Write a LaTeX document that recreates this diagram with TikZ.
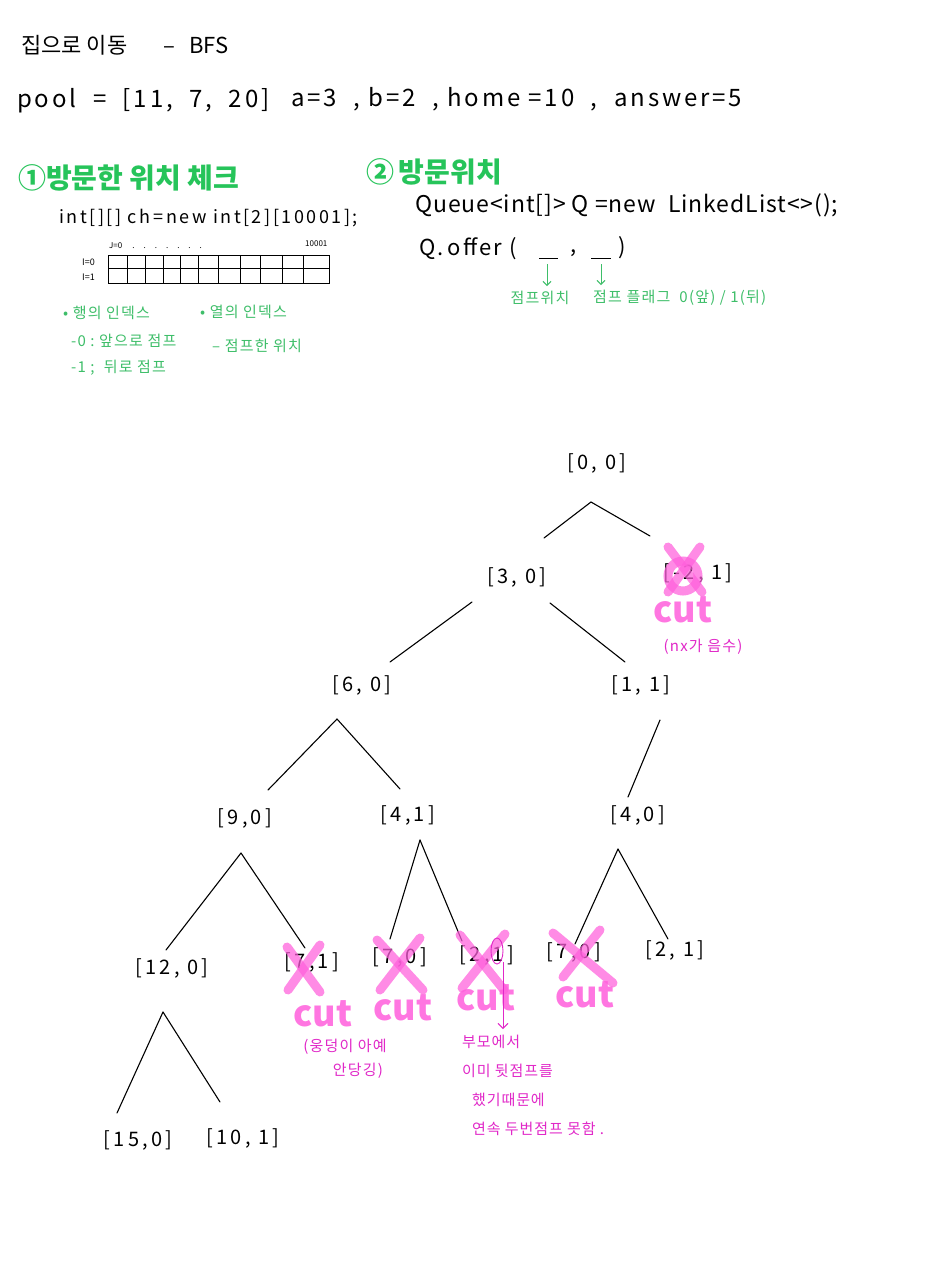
\documentclass[tikz,border=0pt]{standalone}
\usepackage{fontspec}
\setmainfont{Noto Sans CJK KR}
\usetikzlibrary{calc,arrows.meta}
\definecolor{hgreen}{RGB}{38,196,90}
\definecolor{ngreen}{RGB}{62,190,105}
\definecolor{mag}{RGB}{225,40,200}
\definecolor{hl}{RGB}{255,95,220}
\newcommand\fsz[2]{\fontsize{#1}{#2}\selectfont}
\newcommand\lsp[1]{\addfontfeatures{LetterSpace=#1}}
\begin{document}
\begin{tikzpicture}[x=1pt,y=-1pt,
  txt/.style={inner sep=1pt, anchor=west},
  tn/.style={inner sep=1pt, font=\fsz{20}{24}\lsp{16}},
  edge/.style={line width=1.1pt, black, line cap=round},
  xmark/.style={hl, line width=9pt, line cap=round, opacity=0.72},
  cutlbl/.style={text=hl, text opacity=0.85, inner sep=0pt, font=\fsz{36}{40}\bfseries},
  mnote/.style={text=mag, inner sep=1pt, font=\fsz{15}{18}\lsp{8}},
  gnote/.style={text=ngreen, inner sep=1pt, anchor=west, font=\fsz{15}{18}\lsp{8}},
  magline/.style={mag, line width=0.9pt},
  garrow/.style={ngreen, line width=1pt, -{Straight Barb[length=4pt]}}]
\fill[white] (0,0) rectangle (924,1280);
\useasboundingbox (0,0) rectangle (924,1280);

% header
\node[txt, font=\fsz{22}{26}] (title) at (20,45) {집으로 이동\hspace{36pt}–\hspace{14pt}BFS};
\node[txt, font=\fsz{24}{28}\lsp{12}] (pool) at (16,101) {pool\ \ =\ \ [11,\ \ 7,\ \ 20]};
\node[txt, font=\fsz{24}{28}\lsp{12}] (vars) at (290,99) {a=3\ \ ,\ b=2\ \ ,\ home\ =10\ \ ,\ \ answer=5};

% section 1
\node[txt, text=hgreen, font=\fsz{28}{32}\bfseries] (h1) at (17,178) {①방문한 위치 체크};
\node[txt, font=\fsz{18}{21}\lsp{14}] (decl) at (58,218) {int[][]\ ch=\,new\ int[2][10001];};
\draw[line width=0.9pt] (108,255) rectangle (329,283);
\draw[line width=0.9pt] (108,268) -- (329,268);
\foreach \xx in {127,145,163,180,198,218,240,260,282,303}
  \draw[line width=0.9pt] (\xx,255) -- (\xx,283);
\node[txt, font=\fsz{8}{10}] (jlbl) at (108,246) {J=0\hspace{10pt}.\hspace{9pt}.\hspace{9pt}.\hspace{9pt}.\hspace{9pt}.\hspace{9pt}.\hspace{9pt}.};
\node[txt, font=\fsz{8}{10}] (jend) at (304,244) {10001};
\node[txt, font=\fsz{9}{11}] (i0) at (81,262) {I=0};
\node[txt, font=\fsz{9}{11}] (i1) at (81,277) {I=1};
\node[gnote] (r1) at (62,313) {• 행의 인덱스};
\node[gnote] (r2) at (70,341) {-0 :\ 앞으로 점프};
\node[gnote] (r3) at (70,368) {-1 ;\ \ 뒤로 점프};
\node[gnote] (c1) at (199,312) {• 열의 인덱스};
\node[gnote] (c2) at (211,346) {–\ 점프한 위치};

% section 2
\node[txt, text=hgreen, font=\fsz{28}{32}\bfseries] (h2) at (365,172) {②\,방문위치};
\node[txt, font=\fsz{23}{27}\lsp{4}] (queue) at (414,205) {Queue<int[]>\ Q\ =new\ \ LinkedList<>();};
\node[txt, font=\fsz{22}{26}\lsp{10}] (offer) at (418,249) {Q.\,offer (};
\draw[line width=1pt] (539,258) -- (558,258);
\node[font=\fsz{22}{26}, inner sep=0pt] (comma) at (574,253) {,};
\draw[line width=1pt] (591,258) -- (611,258);
\node[font=\fsz{22}{26}, inner sep=0pt] (rpar) at (622,248) {)};
\coordinate (b1) at (547,264);
\coordinate (b2) at (601,264);
\node[gnote, anchor=center] (jp) at (540,298) {점프위치};
\node[gnote] (fl) at (592,298) {점프\ 플래그\ \ 0(앞)\ /\ 1(뒤)};
\draw[garrow, shorten >=4pt] (b1) -- (b1 |- jp.north);
\draw[garrow, shorten >=4pt] (b2) -- (b2 |- fl.north);

% tree nodes
\node[tn] (n00) at (597,463) {[0, 0]};
\node[tn] (n30) at (517,577) {[3, 0]};
\node[tn] (nm21) at (698,573) {[-2, 1]};
\node[tn] (n60) at (362,685) {[6, 0]};
\node[tn] (n11) at (641,685) {[1, 1]};
\node[tn] (n90) at (245,818) {[9,0]};
\node[tn] (n41) at (408,815) {[4,1]};
\node[tn] (n40) at (638,815) {[4,0]};
\node[tn] (n120) at (172,968) {[12, 0]};
\node[tn] (n71) at (312,962) {[7,1]};
\node[tn] (n70a) at (400,957) {[7,0]};
\node[tn] (n21a) at (487,955) {[2,1]};
\node[tn] (n70b) at (574,952) {[7,0]};
\node[tn] (n21b) at (675,950) {[2, 1]};
\node[tn] (n150) at (138,1140) {[15,0]};
\node[tn] (n101) at (243,1138) {[10, 1]};

% tree edges
\draw[edge] ($(n00)+(-6,39)$) -- ($(n30)+(27,-39)$);
\draw[edge] ($(n00)+(-6,39)$) -- ($(nm21)+(-48,-37)$);
\draw[edge] ($(n30)+(-45,25)$) -- ($(n60)+(28,-23)$);
\draw[edge] ($(n30)+(33,26)$) -- ($(n11)+(-16,-23)$);
\draw[edge] ($(n60)+(-25,34)$) -- ($(n90)+(23,-28)$);
\draw[edge] ($(n60)+(-25,34)$) -- ($(n41)+(-8,-26)$);
\draw[edge] ($(n11)+(19,35)$) -- ($(n40)+(-10,-18)$);
\draw[edge] ($(n90)+(-4,35)$) -- ($(n120)+(-6,-18)$);
\draw[edge] ($(n90)+(-4,35)$) -- ($(n71)+(-7,-14)$);
\draw[edge] ($(n41)+(12,25)$) -- ($(n70a)+(-10,-18)$);
\draw[edge] ($(n41)+(12,25)$) -- ($(n21a)+(-25,-14)$);
\draw[edge] ($(n40)+(-20,34)$) -- ($(n70b)+(1,-8)$);
\draw[edge] ($(n40)+(-20,34)$) -- ($(n21b)+(-7,-11)$);
\draw[edge] ($(n120)+(-9,44)$) -- ($(n150)+(-21,-27)$);
\draw[edge] ($(n120)+(-9,44)$) -- ($(n101)+(-23,-36)$);

% pink cut marks
\draw[xmark] (668,547) -- (702,592);
\draw[xmark] (700,547) -- (668,592);
\draw[xmark] (683,576) circle[radius=15pt];
\node[cutlbl] (cut1) at (683,610) {cut};
\node[mnote] (neg) at (703,647) {(nx가 음수)};

\draw[xmark] (287,947) -- (320,992);
\draw[xmark] (320,945) -- (288,990);
\node[cutlbl] (cut2) at (323,1014) {cut};
\node[mnote] (pond1) at (345,1047) {(웅덩이 아예};
\node[mnote] (pond2) at (358,1071) {안당깅)};

\draw[xmark] (377,940) -- (423,990);
\draw[xmark] (420,938) -- (380,990);
\node[cutlbl] (cut3) at (403,1008) {cut};

\draw[xmark] (460,935) -- (504,990);
\draw[xmark] (505,934) -- (462,988);
\node[cutlbl] (cut4) at (486,998) {cut};

\draw[xmark] (553,933) -- (613,983);
\draw[xmark] (600,930) -- (563,977);
\node[cutlbl] (cut5) at (585,995) {cut};

% note about double back jump
\draw[magline] (497,951) ellipse[x radius=6pt, y radius=13pt];
\coordinate (loop) at (503,962);
\node[mnote, anchor=north west, align=left, font=\fsz{15}{29}\lsp{6}] (why) at (461,1034)
  {부모에서\\이미 뒷점프를\\\hspace{10pt}했기때문에\\\hspace{10pt}연속 두번점프 못함 .};
\draw[magline, -{Straight Barb[length=5pt]}, shorten >=5pt] (loop) -- (loop |- why.north);
\end{tikzpicture}
\end{document}
